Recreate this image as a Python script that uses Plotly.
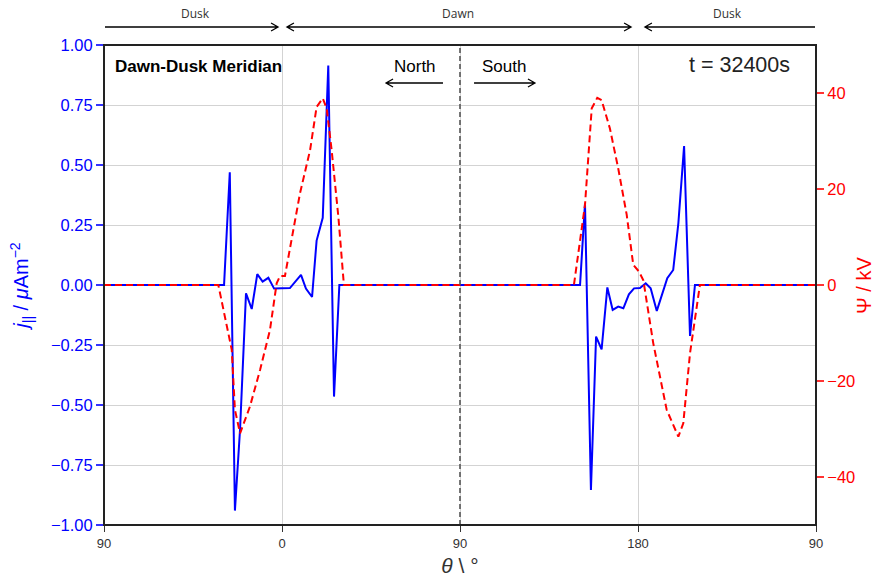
import plotly.graph_objects as go

# Field-aligned current along the dawn-dusk meridian (theta in degrees, j in uA m^-2)
theta_j = [0, 60.7, 63.6, 66.2, 68.8, 71.8, 74.7, 77.5, 80.2, 83.1, 86.0, 90.0, 94.0,
           99.6, 102.1, 105.2, 107.5, 110.6, 113.4, 116.3, 119.0,
           240.7, 243.2, 246.2, 248.8, 251.6, 254.5, 257.2, 260.0, 262.6, 265.4,
           268.0, 271.0, 273.9, 276.4, 279.5, 284.8, 287.8, 290.4, 293.3, 296.3,
           298.8, 360]
j_par = [0, 0, 0.47, -0.94, -0.60, -0.035, -0.10, 0.045, 0.014, 0.03, -0.015, -0.013, -0.013,
         0.042, -0.015, -0.05, 0.185, 0.28, 0.914, -0.465, 0,
         0, 0.34, -0.854, -0.215, -0.268, -0.01, -0.104, -0.09, -0.097, -0.039,
         -0.014, -0.0125, 0.007, -0.014, -0.108, 0.028, 0.0625, 0.257, 0.579, -0.2125,
         0, 0]

# Electric potential along the same meridian (kV)
theta_psi = [0, 57.8, 64.6, 66.2, 68.8, 73.8, 78.9, 83.9, 87.3, 89.0, 91.5, 94.0,
             99.1, 104.2, 107.5, 110.6, 112.6, 115.1, 118.5, 121.3,
             237.6, 243.2, 246.6, 249.4, 251.6, 255.8, 260.0, 264.3, 267.6, 270.5,
             272.7, 277.7, 284.5, 290.4, 292.9, 296.3, 301.3, 360]
psi = [0, 0, -13.5, -26.0, -30.9, -25.3, -17.7, -9.4, 0.35, 1.9, 1.9, 7.3,
       19.1, 28.1, 37.1, 38.9, 36.8, 28.1, 14.2, 0,
       0, 16.7, 36.8, 39.0, 38.5, 32.6, 24.3, 14.6, 4.2, 2.8,
       1.0, -12.1, -26.0, -31.6, -28.8, -14.2, 0, 0]

x_tickvals = [0, 90, 180, 270, 360]
x_ticktext = ["90", "0", "90", "180", "90"]
j_ticks = [-1.0, -0.75, -0.5, -0.25, 0.0, 0.25, 0.5, 0.75, 1.0]
psi_ticks = [-40, -20, 0, 20, 40]

SANS = "Liberation Sans, Arial, sans-serif"
NARROW = "Liberation Sans Narrow, Liberation Sans, Arial, sans-serif"
LABEL = "Open Sans, Noto Sans, sans-serif"

W, H = 875, 577
ML, MR, MT, MB = 104, 59, 45, 52
PW, PH = W - ML - MR, H - MT - MB

fig = go.Figure()
fig.add_trace(go.Scatter(x=theta_j, y=j_par, mode="lines",
                         line=dict(color="#0000ff", width=2), yaxis="y",
                         showlegend=False))
fig.add_trace(go.Scatter(x=theta_psi, y=psi, mode="lines",
                         line=dict(color="#ff0000", width=2, dash="7px,4px"),
                         yaxis="y2", showlegend=False))

fig.update_layout(
    width=W, height=H,
    margin=dict(l=ML, r=MR, t=MT, b=MB),
    paper_bgcolor="white", plot_bgcolor="white",
    font=dict(family=SANS),
    xaxis=dict(range=[0, 360], tickvals=x_tickvals, ticktext=x_ticktext, automargin=False,
               showgrid=True, gridcolor="#d3d3d3", gridwidth=1.2, zeroline=False,
               ticks="outside", ticklen=6, tickwidth=1.2, tickcolor="#333333",
               tickfont=dict(family=NARROW, size=13, color="#333333"),
               title=dict(text="<i>θ</i> \\ °", standoff=8,
                          font=dict(family=SANS, size=21, color="#333333"))),
    yaxis=dict(range=[-1, 1], tickvals=j_ticks, tickformat=".2f", automargin=False,
               showgrid=True, gridcolor="#d3d3d3", gridwidth=1.2, zeroline=False,
               ticks="outside", ticklen=7, tickwidth=1.5, tickcolor="#3333ff",
               tickfont=dict(family=SANS, size=16.5, color="#0000ff"),
               title=dict(text="<i>j</i><sub>||</sub> / <i>μ</i>Am<sup>−2</sup>",
                          standoff=16, font=dict(family=SANS, size=20, color="#0000ff"))),
    yaxis2=dict(range=[-50, 50], tickvals=psi_ticks, overlaying="y", side="right",
                automargin=False, showgrid=False, zeroline=False,
                ticks="outside", ticklen=7, tickwidth=1.5, tickcolor="#ff3333",
                tickfont=dict(family=SANS, size=16.5, color="#ff0000")),
)

# Pole line at the centre of the meridian
fig.add_shape(type="line", xref="x", yref="paper", x0=180, x1=180, y0=0, y1=1,
              line=dict(color="#555555", width=1.6, dash="5px,3px"))
# Axes frame
fig.add_shape(type="rect", xref="paper", yref="paper", x0=0, x1=1, y0=0, y1=1,
              line=dict(color="#222222", width=2), layer="above")


def arrow_path(x_tail, x_head, y, both=False):
    """Horizontal arrow with open chevron heads, x in degrees, y in paper units."""
    hl, hh = 7.0 / PW, 4.0 / PH
    xt, xh = x_tail / 360.0, x_head / 360.0
    d = 1 if xh > xt else -1
    p = f"M {xt},{y} L {xh},{y} M {xh - d * hl},{y + hh} L {xh},{y} L {xh - d * hl},{y - hh}"
    if both:
        p += f" M {xt + d * hl},{y + hh} L {xt},{y} L {xt + d * hl},{y - hh}"
    return p


arrows = [
    (171.4, 142.6, 0.9208, False),   # North
    (187.1, 217.9, 0.9208, False),   # South
    (0.5, 88.0, 1.0375, False),      # Dusk sector
    (92.5, 266.5, 1.0375, True),     # Dawn sector
    (359.5, 273.5, 1.0375, False),   # Dusk sector
]
for xt, xh, yy, both in arrows:
    fig.add_shape(type="path", xref="paper", yref="paper",
                  path=arrow_path(xt, xh, yy, both),
                  line=dict(color="black", width=1.3))

annos = [
    dict(text="<b>Dawn-Dusk Meridian</b>", xref="paper", yref="paper", x=0.0126, y=0.956,
         xanchor="left", yanchor="middle", showarrow=False,
         font=dict(family=SANS, size=17, color="black")),
    dict(text="t = 32400s", xref="paper", yref="paper", x=0.8926, y=0.958,
         xanchor="center", yanchor="middle", showarrow=False,
         font=dict(family=SANS, size=21.5, color="#222222")),
    dict(text="North", xref="x", yref="paper", x=157.3, y=0.956,
         xanchor="center", yanchor="middle", showarrow=False,
         font=dict(family=SANS, size=17, color="black")),
    dict(text="South", xref="x", yref="paper", x=202.2, y=0.956,
         xanchor="center", yanchor="middle", showarrow=False,
         font=dict(family=SANS, size=17, color="black")),
    dict(text="Dusk", xref="x", yref="paper", x=46.5, y=1.0646, xanchor="center",
         yanchor="middle", showarrow=False, font=dict(family=LABEL, size=12, color="#333333")),
    dict(text="Dawn", xref="x", yref="paper", x=179, y=1.0646, xanchor="center",
         yanchor="middle", showarrow=False, font=dict(family=LABEL, size=12, color="#333333")),
    dict(text="Dusk", xref="x", yref="paper", x=315.5, y=1.0646, xanchor="center",
         yanchor="middle", showarrow=False, font=dict(family=LABEL, size=12, color="#333333")),
    # Right-hand axis label, close to the page edge
    dict(text="Ψ / kV", xref="paper", yref="paper", x=1.0674, y=0.5, textangle=-90,
         xanchor="center", yanchor="middle", showarrow=False,
         font=dict(family=SANS, size=20, color="#ff0000")),
]
fig.update_layout(annotations=annos)

fig.write_html("out.html")
